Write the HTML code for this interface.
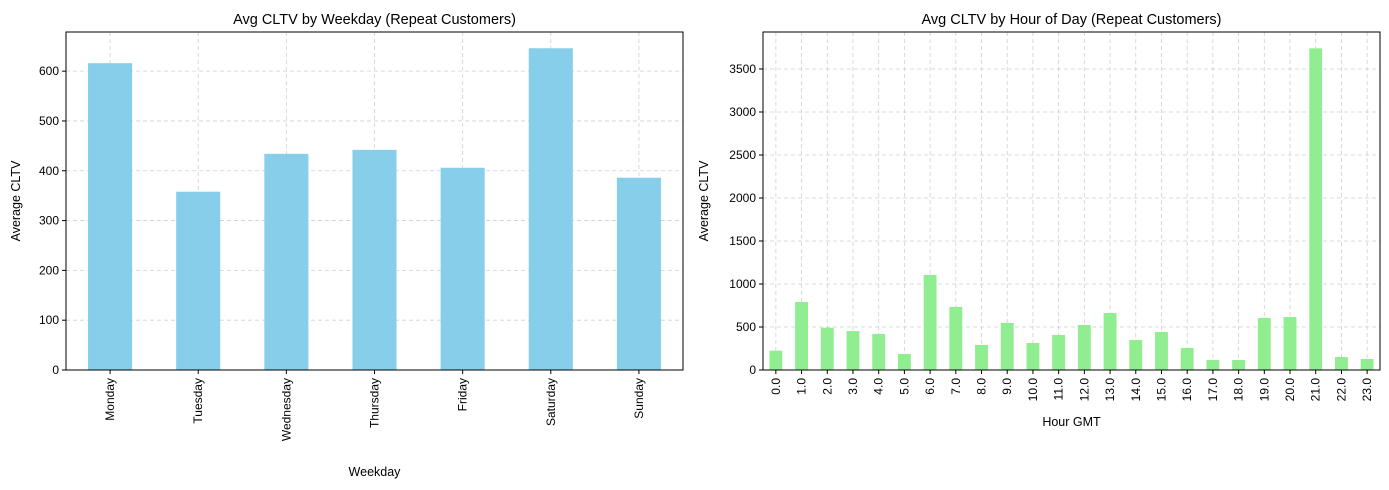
<!DOCTYPE html>
<html><head><meta charset="utf-8">
<style>
body{margin:0;background:#fff;}
svg{display:block;font-family:"Liberation Sans","DejaVu Sans",sans-serif;}
</style></head>
<body>
<svg id="chart" width="1389" height="490" xmlns="http://www.w3.org/2000/svg"></svg>
<script>
const weekdays = ["Monday","Tuesday","Wednesday","Thursday","Friday","Saturday","Sunday"];
const weekdayCLTV = [616, 358, 434, 442, 406, 646, 386];
const weekdayTicks = [0,100,200,300,400,500,600];
const hours = ["0.0","1.0","2.0","3.0","4.0","5.0","6.0","7.0","8.0","9.0","10.0","11.0","12.0","13.0","14.0","15.0","16.0","17.0","18.0","19.0","20.0","21.0","22.0","23.0"];
const hourCLTV = [224,791,492,453,419,186,1105,733,291,547,314,407,523,663,349,442,256,116,116,605,616,3740,151,128];
const hourTicks = [0,500,1000,1500,2000,2500,3000,3500];

const NS="http://www.w3.org/2000/svg";
const svg=document.getElementById('chart');
function el(tag,attrs,parent){const e=document.createElementNS(NS,tag);for(const k in attrs)e.setAttribute(k,attrs[k]);(parent||svg).appendChild(e);return e;}

function drawPanel(o){
  const g=el('g',{});
  
  
  const {x0,x1,y0,y1,ymax}=o;
  const n=o.cats.length, step=(x1-x0)/n;
  const xc=i=>x0+step*(i+0.5);
  const yv=v=>y1-(v/ymax)*(y1-y0);
  o.ticks.forEach(t=>{
    const l=el('line',{x1:x0,x2:x1,y1:yv(t),y2:yv(t),stroke:'#b0b0b0','stroke-opacity':0.6,'stroke-dasharray':'4,3','stroke-width':0.8},g);
    
    
  });
  o.cats.forEach((c,i)=>{
    const l=el('line',{x1:xc(i),x2:xc(i),y1:y0,y2:y1,stroke:'#b0b0b0','stroke-opacity':0.6,'stroke-dasharray':'4,3','stroke-width':0.8},g);
    
    
  });
  o.vals.forEach((v,i)=>{
    const w=step*0.5;
    const r=el('rect',{x:xc(i)-w/2,y:yv(v),width:w,height:y1-yv(v),fill:o.color},g);
    
    
  });
  const f=el('rect',{x:x0,y:y0,width:x1-x0,height:y1-y0,fill:'none',stroke:'#000','stroke-width':1},g);
  
  
  o.ticks.forEach(t=>{
    el('line',{x1:x0-4,x2:x0,y1:yv(t),y2:yv(t),stroke:'#000'},g);
    const tx=el('text',{x:x0-7,y:yv(t)+4,'text-anchor':'end','font-size':12,fill:'#000'},g);
    tx.textContent=t;
    
    
  });
  o.cats.forEach((c,i)=>{
    el('line',{x1:xc(i),x2:xc(i),y1:y1,y2:y1+4,stroke:'#000'},g);
    const tx=el('text',{x:0,y:0,'text-anchor':'end','font-size':12,fill:'#000',transform:`translate(${xc(i)+4},${y1+8}) rotate(-90)`},g);
    tx.textContent=c;
    
    
  });
  const t=el('text',{x:(x0+x1)/2,y:y0-8,'text-anchor':'middle','font-size':14.5,fill:'#000'},g);
  t.textContent=o.title;
  
  
  const xl=el('text',{x:(x0+x1)/2,y:o.xlabelY,'text-anchor':'middle','font-size':12.5,fill:'#000'},g);
  xl.textContent=o.xlabel;
  
  
  const yl=el('text',{x:0,y:0,'text-anchor':'middle','font-size':12.5,fill:'#000',transform:`translate(${o.ylabelX},${(y0+y1)/2}) rotate(-90)`},g);
  yl.textContent='Average CLTV';
  
  
}
drawPanel({name:'weekday-chart',x0:66,x1:683,y0:32,y1:370,ymax:678.6,cats:weekdays,vals:weekdayCLTV,ticks:weekdayTicks,color:'#87ceeb',title:'Avg CLTV by Weekday (Repeat Customers)',xlabel:'Weekday',xlabelY:476,ylabelX:20});
drawPanel({name:'hour-chart',x0:763,x1:1380,y0:32,y1:370,ymax:3930,cats:hours,vals:hourCLTV,ticks:hourTicks,color:'#90ee90',title:'Avg CLTV by Hour of Day (Repeat Customers)',xlabel:'Hour GMT',xlabelY:426,ylabelX:708});
</script>
</body></html>
